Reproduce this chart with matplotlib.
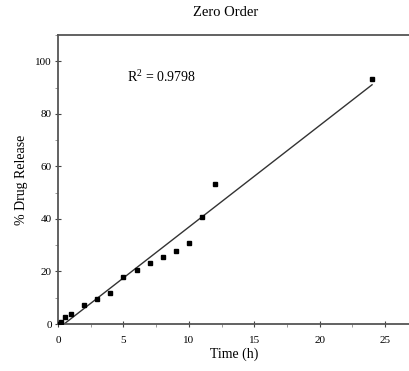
import numpy as np
import matplotlib
matplotlib.use("Agg")
import matplotlib.pyplot as plt
from matplotlib.ticker import MultipleLocator

plt.rcParams['font.family'] = ['Liberation Serif', 'DejaVu Serif']
plt.rcParams['mathtext.fontset'] = 'custom'
plt.rcParams['mathtext.rm'] = 'Liberation Serif'

# Cumulative release over time
time_h = [0, 0.25, 0.5, 1, 2, 3, 4, 5, 6, 7, 8, 9, 10, 11, 12, 24]
release = [0, 0.9, 2.5, 3.7, 7.1, 9.5, 11.7, 18.0, 20.6, 23.3, 25.6, 27.9, 30.7, 40.8, 53.1, 93.3]
r2_label = r"R$^\mathrm{2}$ = 0.9798"

fig = plt.figure(figsize=(4.10, 3.71), dpi=100)
ax = fig.add_axes([58/410, 1 - 324/371, 1 - 58/410, (324 - 35)/371])

t = np.array(time_h)
y = np.array(release)
slope, intercept = np.polyfit(t, y, 1)
tf = np.linspace(0, 24, 200)
ax.plot(tf, slope * tf + intercept, color='#333333', lw=1.0, zorder=2)
ax.plot(t, y, 's', color='black', ms=2.4, zorder=3)

ax.set_xlim(0, 26.9)
ax.set_ylim(0, 110)
ax.xaxis.set_major_locator(MultipleLocator(5))
ax.xaxis.set_minor_locator(MultipleLocator(2.5))
ax.yaxis.set_major_locator(MultipleLocator(20))
ax.yaxis.set_minor_locator(MultipleLocator(10))
ax.tick_params(which='major', direction='inout', length=5, width=0.8, color='#444444',
               labelsize=8, pad=2)
ax.tick_params(axis='x', which='major', pad=6)
ax.tick_params(which='minor', direction='out', length=2.5, width=0.6, color='#888888')
for s in ['left', 'bottom', 'top']:
    ax.spines[s].set_color('#555555')
    ax.spines[s].set_linewidth(1.3)
ax.spines['right'].set_visible(False)

ax.set_xlabel('Time (h)', fontsize=10, labelpad=2)
ax.set_ylabel('% Drug Release', fontsize=10, labelpad=5)
fig.text(226/410, 1 - 13/371, 'Zero Order', ha='center', va='center', fontsize=10.5)
ax.text(5.3, 94, r2_label, fontsize=10, ha='left', va='center')

fig.savefig('out.png', dpi=100)
